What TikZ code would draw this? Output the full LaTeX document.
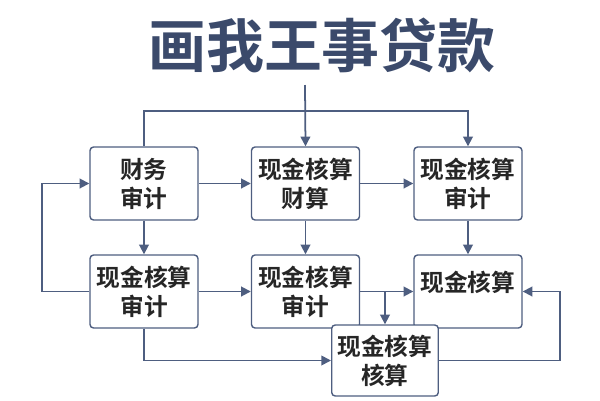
\documentclass[tikz,border=0pt]{standalone}
\usepackage{fontspec}
\newfontfamily\cjk{Noto Sans CJK SC}[BoldFont={Noto Sans CJK SC Bold}]
\usetikzlibrary{arrows.meta}
\definecolor{slate}{HTML}{3B4A6B}
\definecolor{line}{HTML}{4E5E80}
\tikzset{
  box/.style={draw=line, thick, rounded corners=2pt, fill=white,
    minimum width=2.16cm, minimum height=1.46cm, align=center,
    font=\cjk\bfseries\fontsize{13.5}{16.5}\selectfont, text=black!85},
  flow/.style={-{Triangle[width=5.5pt,length=5.5pt]}, line, line width=1pt}
}
\begin{document}
\begin{tikzpicture}[x=0.02cm,y=-0.02cm]
            \useasboundingbox (0,0) rectangle (600,400);
            % Title
            \node[font=\cjk\bfseries\fontsize{33}{38}\selectfont, text=slate] (title) at (322,45) {画我王事贷款};

            % Boxes
            \node[box] (audit) at (144,183.5) {财务\\审计};
            \node[box] (calc) at (305.5,183.5) {现金核算\\财算};
            \node[box] (check) at (468,183.5) {现金核算\\审计};
            \node[box] (caud) at (144,291.5) {现金核算\\审计};
            \node[box] (caud2) at (305.5,291.5) {现金核算\\审计};
            \node[box, text depth=0.4cm] (cash) at (468,291.5) {现金核算};
            \node[box, minimum width=2.12cm, minimum height=1.42cm] (final) at (385,360.5) {现金核算\\核算};

            % Top feed
            \coordinate (in) at (305,85);
            \draw[flow] (in) -- (calc.north);
            \draw[flow] (audit.north) |- (305,111) -| (check.north);

            % Row links
            \draw[flow] (audit) -- (calc);
            \draw[flow] (calc) -- (check);
            \draw[flow] (audit) -- (caud);
            \draw[flow] (calc) -- (caud2);
            \draw[flow] (check) -- (cash);
            \draw[flow] (caud) -- (caud2);
            \draw[flow] (caud2.east) -- (cash.west |- caud2.east);
            \draw[flow] (385,291.5) -- (final.north);

            % Loops
            \draw[flow] (caud.west) -- (42,291.5) |- (audit.west);
            \draw[flow] (caud.south) |- (final.west);
            \draw[flow] (final.east) -- (560,360.5) |- (cash.east);
        \end{tikzpicture}
\end{document}
